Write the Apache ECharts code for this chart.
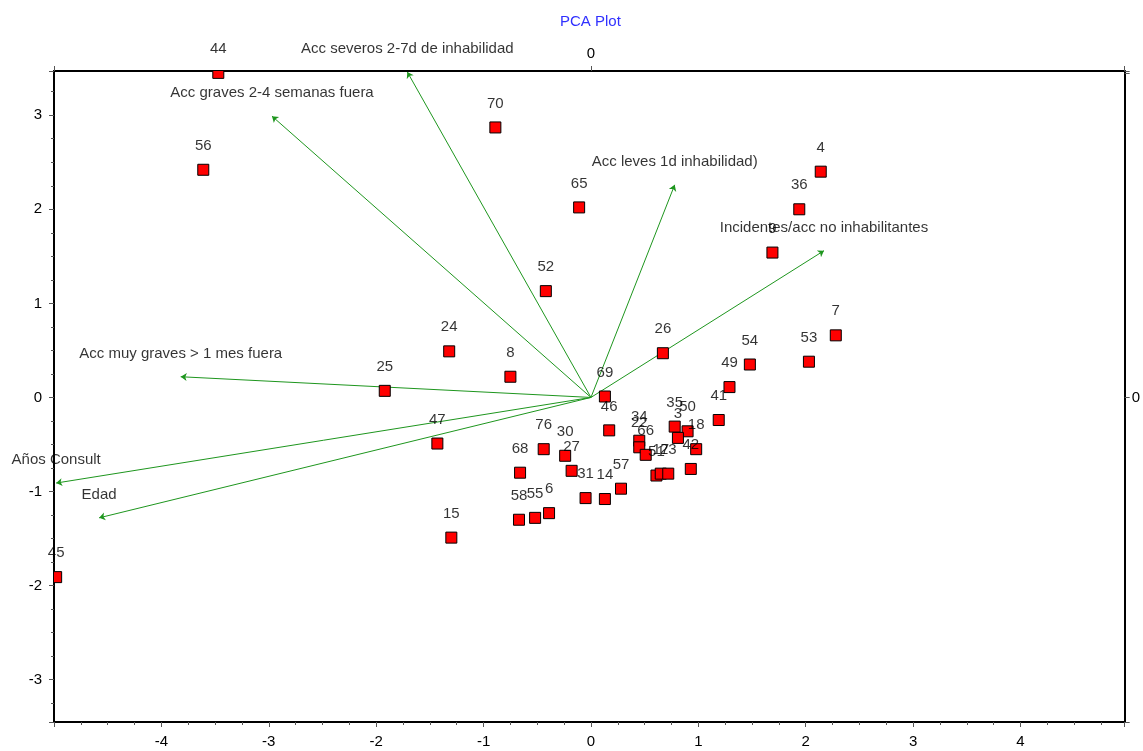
<!DOCTYPE html>
<html>
<head>
<meta charset="utf-8">
<script src="https://cdn.jsdelivr.net/npm/echarts@6/dist/echarts.min.js"></script>
<style>
html,body{margin:0;padding:0;background:#fff;}
#chart{width:1143px;height:751px;}
</style>
</head>
<body>
<div id="chart"></div>
<script>
// ---- Data ----
const pointNames = ['44','56','70','65','52','4','36','9','7','53','54','49','41','26','69','46','24','8','25','47','76','30','27','68','31','14','57','58','55','6','15','45','34','22','66','35','50','3','18','42','51','17','23'];
const pointX = [-3.47,-3.61,-0.89,-0.11,-0.42,2.14,1.94,1.69,2.28,2.03,1.48,1.29,1.19,0.67,0.13,0.17,-1.32,-0.75,-1.92,-1.43,-0.44,-0.24,-0.18,-0.66,-0.05,0.13,0.28,-0.67,-0.52,-0.39,-1.30,-4.98,0.45,0.45,0.51,0.78,0.90,0.81,0.98,0.93,0.61,0.65,0.72];
const pointY = [3.45,2.42,2.87,2.02,1.13,2.40,2.00,1.54,0.66,0.38,0.35,0.11,-0.24,0.47,0.01,-0.35,0.49,0.22,0.07,-0.49,-0.55,-0.62,-0.78,-0.80,-1.07,-1.08,-0.97,-1.30,-1.28,-1.23,-1.49,-1.91,-0.46,-0.53,-0.61,-0.31,-0.36,-0.43,-0.55,-0.76,-0.83,-0.81,-0.81];

const loadingNames = ['Acc severos 2-7d de inhabilidad','Acc graves 2-4 semanas fuera','Acc leves 1d inhabilidad)','Incidentes/acc no inhabilitantes','Acc muy graves > 1 mes fuera','Años Consult','Edad'];
const loadingX = [-1.71,-2.97,0.78,2.17,-3.82,-4.98,-4.58];
const loadingY = [3.46,2.99,2.26,1.56,0.22,-0.91,-1.28];

const titleText = 'PCA Plot';
const xMin = -5, xMax = 4.97;
const yMin = -3.45, yMax = 3.47;

// ---- Chart ----
const FONT = 'Arial, "Liberation Sans", sans-serif';
const TXT = '#000';
const chart = echarts.init(document.getElementById('chart'), null, {renderer:'canvas'});

const tickStyle = {color:'#555', width:1};
const lineBlack = {color:'#000', width:2};
const zeroOnly = v => Math.abs(v) < 1e-9 ? '0' : '';

const option = {
  animation:false,
  backgroundColor:'#fff',
  title:{
    text:titleText, left:555, top:9,
    textStyle:{fontSize:15, fontWeight:'normal', color:'#3030ff', fontFamily:FONT}
  },
  grid:{left:54, right:14, top:71, bottom:29, containLabel:false},
  xAxis:[
    {
      type:'value', min:xMin, max:xMax, interval:1, position:'bottom',
      axisLine:{show:true, onZero:false, lineStyle:lineBlack},
      axisTick:{show:true, length:5, lineStyle:tickStyle},
      minorTick:{show:true, splitNumber:4, length:3, lineStyle:tickStyle},
      splitLine:{show:false}, minorSplitLine:{show:false},
      axisLabel:{showMinLabel:false, showMaxLabel:false, margin:12, fontSize:15, color:TXT, fontFamily:FONT}
    },
    {
      type:'value', min:xMin, max:xMax, interval:5, position:'top',
      axisLine:{show:true, onZero:false, lineStyle:lineBlack},
      axisTick:{show:true, length:5, lineStyle:tickStyle},
      splitLine:{show:false},
      axisLabel:{margin:10, fontSize:15, color:TXT, fontFamily:FONT, formatter:zeroOnly}
    }
  ],
  yAxis:[
    {
      type:'value', min:yMin, max:yMax, splitNumber:7, position:'left',
      axisLine:{show:true, onZero:false, lineStyle:lineBlack},
      axisTick:{show:true, length:5, lineStyle:tickStyle},
      minorTick:{show:true, splitNumber:4, length:3, lineStyle:tickStyle},
      splitLine:{show:false}, minorSplitLine:{show:false},
      axisLabel:{showMinLabel:false, showMaxLabel:false, margin:12, fontSize:15, color:TXT, fontFamily:FONT}
    },
    {
      type:'value', min:yMin, max:yMax, interval:3.45, position:'right',
      axisLine:{show:true, onZero:false, lineStyle:lineBlack},
      axisTick:{show:true, length:5, lineStyle:tickStyle},
      splitLine:{show:false},
      axisLabel:{margin:7, fontSize:15, color:TXT, fontFamily:FONT, formatter:zeroOnly}
    }
  ],
  series:[
    {
      type:'lines', coordinateSystem:'cartesian2d', xAxisIndex:0, yAxisIndex:0,
      silent:true, z:2,
      symbol:['none','arrow'], symbolSize:6,
      lineStyle:{color:'#1e961e', width:1, opacity:1, curveness:0},
      data: loadingX.map((x,i) => ({coords:[[0,0],[x, loadingY[i]]]}))
    },
    {
      // loading labels
      type:'scatter', xAxisIndex:0, yAxisIndex:0, silent:true, z:3,
      symbol:'circle', symbolSize:1,
      itemStyle:{color:'rgba(0,0,0,0)'},
      label:{show:true, position:'top', distance:15, formatter:p => p.name,
        fontSize:15, color:TXT, fontFamily:FONT},
      data: loadingNames.map((n,i) => ({name:n, value:[loadingX[i], loadingY[i]]}))
    },
    {
      // red squares, clipped to the plot area
      type:'custom', xAxisIndex:0, yAxisIndex:0, silent:true, z:4, clip:true,
      encode:{x:0, y:1},
      renderItem:(params, api) => {
        const c = api.coord([api.value(0), api.value(1)]);
        return {type:'rect', shape:{x:c[0]-5.5, y:c[1]-5.5, width:11, height:11},
          style:{fill:'#ff0000', stroke:'#000', lineWidth:1}};
      },
      data: pointX.map((x,i) => [x, pointY[i]])
    },
    {
      // point labels
      type:'scatter', xAxisIndex:0, yAxisIndex:0, silent:true, z:5,
      symbol:'rect', symbolSize:11,
      itemStyle:{color:'rgba(0,0,0,0)'},
      label:{show:true, position:'top', distance:11, formatter:p => p.name,
        fontSize:15, color:TXT, fontFamily:FONT},
      data: pointNames.map((n,i) => ({name:n, value:[pointX[i], pointY[i]]}))
    }
  ]
};
chart.setOption(option);
</script>
</body>
</html>
